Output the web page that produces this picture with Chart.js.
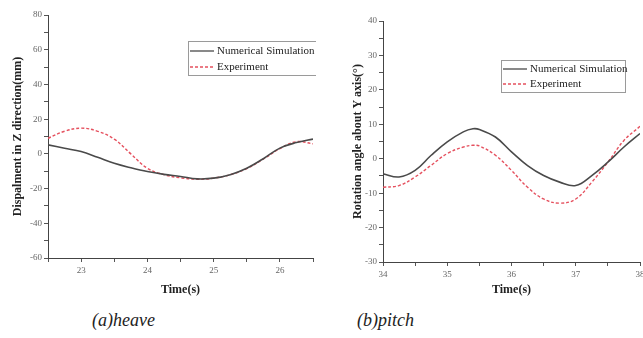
<!DOCTYPE html>
<html>
<head>
<meta charset="utf-8">
<script src="https://cdn.jsdelivr.net/npm/chart.js@4/dist/chart.umd.min.js"></script>
<style>
  html, body { margin: 0; padding: 0; background: #fff; }
  body { width: 643px; height: 338px; overflow: hidden; position: relative; }
  .box { position: absolute; top: 0; height: 300px; }
  .cap { position: absolute; top: 310px; font: italic 18px "Liberation Serif", serif; color: #222; }
</style>
</head>
<body>
<div class="box" style="left:0;width:316px"><canvas id="heave"></canvas></div>
<div class="box" style="left:320px;width:330px"><canvas id="pitch"></canvas></div>
<div class="cap" style="left:92px">(a)heave</div>
<div class="cap" style="left:357px">(b)pitch</div>
<script>
// heave (left panel)
const heaveTime = [22.5, 22.75, 23, 23.25, 23.5, 23.75, 24, 24.25, 24.5, 24.75, 25, 25.25, 25.5, 25.75, 26, 26.25, 26.5];
const heaveSim  = [5.2, 3.2, 1.3, -2, -5.4, -8, -10.2, -11.8, -13, -14.4, -14, -12, -8.3, -2.8, 3.3, 6.5, 8.5];
const heaveExp  = [9, 13, 14.8, 13, 8.5, 0, -8.3, -12, -13.8, -14.6, -14, -12, -8.5, -3, 3, 7, 5.8];

// pitch (right panel)
const pitchTime = [34, 34.25, 34.5, 34.75, 35, 35.25, 35.4, 35.5, 35.75, 36, 36.25, 36.5, 36.75, 37, 37.25, 37.5, 37.75, 38];
const pitchSim  = [-4.4, -5.3, -3.4, 1, 4.9, 7.8, 8.7, 8.5, 6.3, 2, -2, -4.9, -6.8, -7.8, -4.9, -1, 3.4, 7.3];
const pitchExp  = [-8.3, -7.8, -5.3, -1.9, 1.5, 3.4, 3.9, 3.7, 1, -3.4, -8.3, -11.7, -12.9, -11.7, -6.8, -1, 5.3, 9.4];

const seriesLabels = ["Numerical Simulation", "Experiment"];

const serif = "'Liberation Serif', 'Times New Roman', serif";

function pts(xs, ys) {
  return xs.map((x, i) => ({x: x, y: ys[i]}));
}

// legend with a grey frame, drawn inside the plot
const boxLegend = {
  id: "boxLegend",
  afterDraw(chart, args, opts) {
    const ctx = chart.ctx;
    ctx.save();
    ctx.strokeStyle = "#9a9a9a";
    ctx.lineWidth = 1;
    ctx.strokeRect(opts.x + 0.5, opts.y + 0.5, opts.w, opts.h);
    ctx.font = "11px " + serif;
    ctx.textBaseline = "middle";
    chart.data.datasets.forEach((ds, i) => {
      const y = opts.y + opts.row0 + i * opts.rowGap;
      ctx.strokeStyle = ds.borderColor;
      ctx.lineWidth = 1.3;
      ctx.setLineDash(ds.borderDash || []);
      ctx.beginPath();
      ctx.moveTo(opts.x + 2, y);
      ctx.lineTo(opts.x + 26, y);
      ctx.stroke();
      ctx.setLineDash([]);
      ctx.fillStyle = "#222";
      ctx.fillText(ds.label, opts.x + 29, y);
    });
    ctx.restore();
  }
};

function makeChart(id, xs, sim, exp, cfg) {
  return new Chart(document.getElementById(id), {
    type: "line",
    data: {
      datasets: [
        {label: seriesLabels[0], data: pts(xs, sim), borderColor: "#4a4a4a", borderWidth: 1.6, pointRadius: 0, tension: 0.4},
        {label: seriesLabels[1], data: pts(xs, exp), borderColor: "#e5505e", borderWidth: 1.4, borderDash: [3, 2], pointRadius: 0, tension: 0.4}
      ]
    },
    options: {
      responsive: true,
      maintainAspectRatio: false,
      animation: false,
      layout: {padding: {top: cfg.top, right: cfg.right, left: 0, bottom: 0}},
      plugins: {
        legend: {display: false},
        tooltip: {enabled: false},
        boxLegend: cfg.legend
      },
      scales: {
        x: {
          type: "linear",
          min: cfg.xmin, max: cfg.xmax,
          afterFit: s => { s.height = cfg.xh; },
          border: {display: true, color: "#444", width: 1},
          grid: {drawOnChartArea: false, tickLength: 4, color: "#555"},
          ticks: {
            stepSize: 0.5, autoSkip: false, maxRotation: 0, padding: 3,
            color: "#666", font: {family: serif, size: 9},
            callback: v => Number.isInteger(v) ? v : ""
          },
          title: {display: true, text: "Time(s)", color: "#222", font: {family: serif, size: 12, weight: "bold"}, padding: {top: 0, bottom: 3}}
        },
        y: {
          min: cfg.ymin, max: cfg.ymax,
          afterFit: s => { s.width = cfg.yw; },
          border: {display: true, color: "#444", width: 1},
          grid: {drawOnChartArea: false, tickLength: 4, color: "#555"},
          ticks: {
            stepSize: cfg.ystep, autoSkip: false, padding: 2,
            color: "#666", font: {family: serif, size: 9},
            callback: v => v % cfg.ylab === 0 ? v : ""
          },
          title: {display: true, text: cfg.ytitle, color: "#222", font: {family: serif, size: 12, weight: "bold"}, padding: {top: cfg.ytp, bottom: 0}}
        }
      }
    },
    plugins: [boxLegend]
  });
}

makeChart("heave", heaveTime, heaveSim, heaveExp, {
  top: 15, right: 3, xh: 42, yw: 48, ytp: 11,
  xmin: 22.5, xmax: 26.5, ymin: -60, ymax: 80, ystep: 10, ylab: 20,
  ytitle: "Dispalment in Z direction(mm)",
  legend: {x: 188, y: 41, w: 160, h: 34, row0: 10, rowGap: 16}
});

makeChart("pitch", pitchTime, pitchSim, pitchExp, {
  top: 21, right: 10, xh: 38, yw: 63, ytp: 31,
  xmin: 34, xmax: 38, ymin: -30, ymax: 40, ystep: 5, ylab: 10,
  ytitle: "Rotation angle about Y axis(°)",
  legend: {x: 181, y: 60, w: 124, h: 32, row0: 9, rowGap: 15}
});
</script>
</body>
</html>
